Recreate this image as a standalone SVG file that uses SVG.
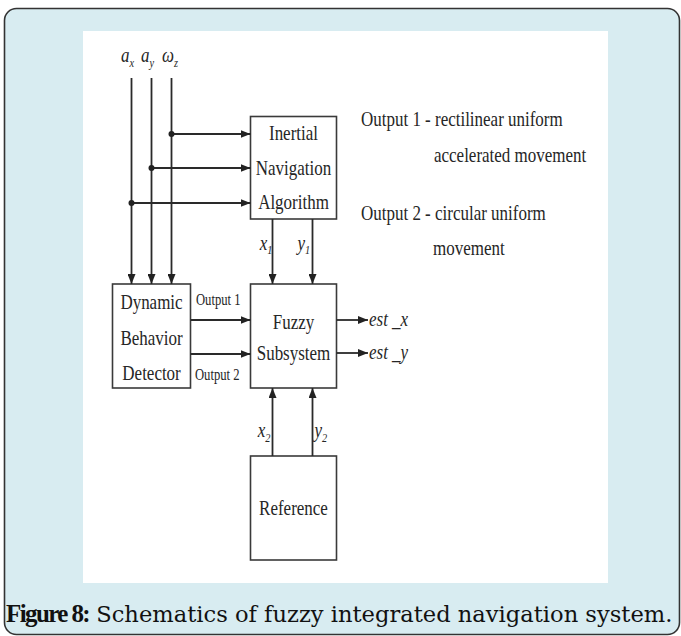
<svg xmlns="http://www.w3.org/2000/svg" width="681" height="636" viewBox="0 0 681 636">
<style>
.frame{fill:#d8ecf1;stroke:#333;stroke-width:1.6}
.paper{fill:#fff}
.box{fill:#fff;stroke:#3a3a3a;stroke-width:1.6}
.ln{fill:none;stroke:#2a2a2a;stroke-width:1.8}
.dot{fill:#222}
.t{font-family:"Liberation Serif","Times New Roman",serif;font-size:21.5px;fill:#262626;transform-box:fill-box;transform-origin:center;transform:scaleX(0.79)}
.c{text-anchor:middle}
.l{transform-origin:left center}
.s{font-size:16px}
.i{font-style:italic}
.cap{font-family:"DejaVu Serif","Liberation Serif",serif;font-size:22.6px;fill:#111}
.capb{font-family:"Liberation Serif","Times New Roman",serif;font-size:25px;font-weight:bold;letter-spacing:-1.6px}
</style>
<defs>
<marker id="ah" viewBox="0 0 10 8" refX="10" refY="4" markerWidth="10" markerHeight="8" markerUnits="userSpaceOnUse" orient="auto">
<path d="M0,0 L10,4 L0,8 z" fill="#222"/>
</marker>
</defs>
<rect class="frame" x="4.5" y="8.5" width="675" height="626" rx="12"/>
<rect class="paper" x="83" y="31" width="525" height="552"/>

<g id="inputs">
<text class="t i l" x="121" y="62">a<tspan font-size="13" dy="5">x</tspan></text>
<text class="t i l" x="141" y="62">a<tspan font-size="13" dy="5">y</tspan></text>
<text class="t i l" x="162" y="62">ω<tspan font-size="13" dy="5">z</tspan></text>
</g>

<g id="ina">
<rect class="box" x="250.5" y="116.5" width="86" height="102.5"/>
<text class="t c" x="293.5" y="140">Inertial</text>
<text class="t c" x="293.5" y="175">Navigation</text>
<text class="t c" x="293.5" y="209">Algorithm</text>
</g>

<g id="dbd">
<rect class="box" x="112.5" y="284" width="78" height="104"/>
<text class="t c" x="151.5" y="309">Dynamic</text>
<text class="t c" x="151.5" y="345">Behavior</text>
<text class="t c" x="151.5" y="380">Detector</text>
</g>

<g id="fuzzy">
<rect class="box" x="250.5" y="284" width="86" height="104"/>
<text class="t c" x="293.5" y="329">Fuzzy</text>
<text class="t c" x="293.5" y="360">Subsystem</text>
</g>

<g id="reference">
<rect class="box" x="250.5" y="456" width="86" height="104"/>
<text class="t c" x="293.5" y="515">Reference</text>
</g>

<g id="legend">
<text class="t l" x="361" y="126">Output 1 - rectilinear uniform</text>
<text class="t l" x="434" y="162">accelerated movement</text>
<text class="t l" x="361" y="220">Output 2 - circular uniform</text>
<text class="t l" x="433" y="255">movement</text>
</g>

<g id="connectors">
<path class="ln" d="M131.5,78 V284" marker-end="url(#ah)"/>
<path class="ln" d="M151.5,78 V284" marker-end="url(#ah)"/>
<path class="ln" d="M171.5,78 V284" marker-end="url(#ah)"/>
<path class="ln" d="M171.5,134 H250.5" marker-end="url(#ah)"/>
<path class="ln" d="M151.5,168 H250.5" marker-end="url(#ah)"/>
<path class="ln" d="M131.5,203 H250.5" marker-end="url(#ah)"/>
<circle class="dot" cx="171.5" cy="134" r="3"/>
<circle class="dot" cx="151.5" cy="168" r="3"/>
<circle class="dot" cx="131.5" cy="203" r="3"/>
<path class="ln" d="M272.5,219 V284" marker-end="url(#ah)"/>
<path class="ln" d="M312.5,219 V284" marker-end="url(#ah)"/>
<path class="ln" d="M190.5,320 H250.5" marker-end="url(#ah)"/>
<path class="ln" d="M190.5,354 H250.5" marker-end="url(#ah)"/>
<path class="ln" d="M336.5,320 H368" marker-end="url(#ah)"/>
<path class="ln" d="M336.5,353 H368" marker-end="url(#ah)"/>
<path class="ln" d="M272.5,456 V388" marker-end="url(#ah)"/>
<path class="ln" d="M312.5,456 V388" marker-end="url(#ah)"/>
<text class="t i l" x="260" y="250">x<tspan font-size="13" dy="4">1</tspan></text>
<text class="t i l" x="298" y="250">y<tspan font-size="13" dy="4">1</tspan></text>
<text class="t s l" x="196" y="305">Output 1</text>
<text class="t s l" x="195" y="380">Output 2</text>
<text class="t i l" x="369" y="326">est _x</text>
<text class="t i l" x="369" y="359">est _y</text>
<text class="t i l" x="258" y="437">x<tspan font-size="13" dy="5">2</tspan></text>
<text class="t i l" x="315" y="437">y<tspan font-size="13" dy="5">2</tspan></text>
</g>

<g id="caption">
<text class="cap" x="6" y="622"><tspan class="capb">Figure 8:</tspan> Schematics of fuzzy integrated navigation system.</text>
</g>
</svg>
